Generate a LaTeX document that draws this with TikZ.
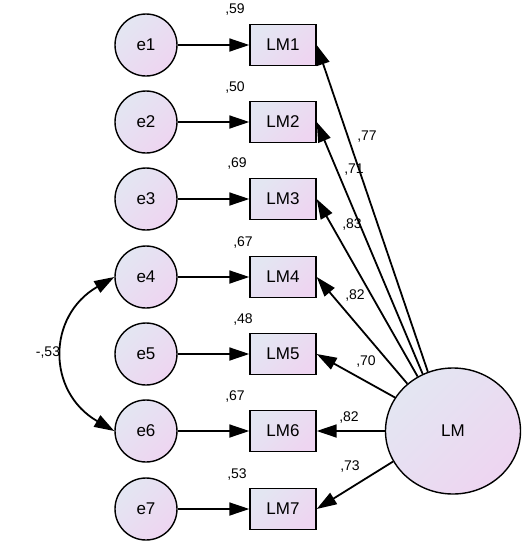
\documentclass[tikz,border=0pt]{standalone}
\usepackage{fontspec}
\setmainfont{Liberation Sans}
\usetikzlibrary{arrows.meta,shapes.geometric}
\definecolor{shadeA}{HTML}{E3E6F2}
\definecolor{shadeB}{HTML}{EED5F1}
\tikzset{
	shd/.style={draw,line width=1.4pt,left color=shadeA,right color=shadeB,shading angle=45},
	err/.style={shd,circle,minimum size=62pt,inner sep=0pt,font=\fontsize{17}{20}\selectfont},
	obs/.style={shd,rectangle,minimum width=66pt,minimum height=41pt,inner sep=0pt,font=\fontsize{17}{20}\selectfont},
	lat/.style={shd,ellipse,minimum width=135pt,minimum height=126pt,inner sep=0pt,font=\fontsize{17}{20}\selectfont},
	est/.style={inner sep=0pt,font=\fontsize{14}{16}\selectfont},
	reg/.style={line width=1.8pt,-{Triangle[length=20pt,width=13pt]}},
	cov/.style={line width=1.8pt,{Triangle[length=20pt,width=13pt]}-{Triangle[length=20pt,width=13pt]}}
}
\begin{document}
\begin{tikzpicture}[x=1pt,y=1pt]
	\useasboundingbox (0,0) rectangle (528,-550);
		\foreach \i/\y/\r/\rx/\ry in {1/45/59/235/10,2/122/50/235/88,3/199/69/237/164,4/277/67/243/243,5/354/48/243/320,6/431/67/235/397,7/509/53/237/475}{
			\node[err] (e\i) at (146,-\y) {e\i};
			\node[obs] (LM\i) at (283,-\y) {LM\i};
			\node[est] (r\i) at (\rx,-\ry) {,\r};
			\draw[reg] (e\i) -- (LM\i);
		}
		\node[lat] (LM) at (453,-431) {LM};
		\foreach \i/\a/\w/\lx/\ly in {1/113/77/367/137,2/118/71/354/170,3/123/83/352/225,4/134/82/355/296,5/150/70/366/362,6/180/82/349/418,7/207/73/350/467}{
			\draw[reg] (LM.\a) -- (LM\i.east);
			\node[est] (w\i) at (\lx,-\ly) {,\w};
		}
		\draw[cov] (e4.west) to[out=210,in=150,looseness=1.3] (e6.west);
		\node[est] (c46) at (48,-353) {-,53};
\end{tikzpicture}
\end{document}
